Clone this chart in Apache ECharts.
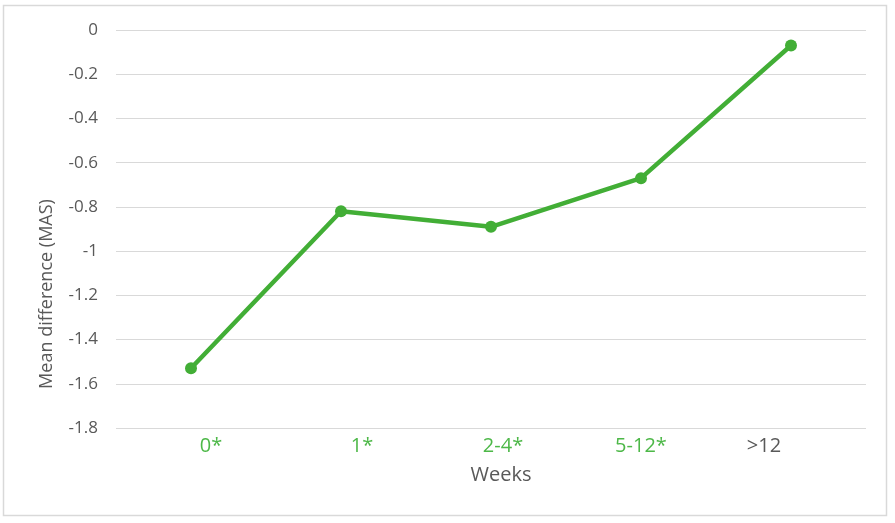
<!DOCTYPE html>
<html><head><meta charset="utf-8">
<script src="https://cdn.jsdelivr.net/npm/echarts@6/dist/echarts.min.js"></script>
<style>html,body{margin:0;padding:0;background:#fff}#c{width:895px;height:523px}</style>
</head><body><div id="c"></div>
<script>
const categories = ['0*', '1*', '2-4*', '5-12*', '>12'];
const meanDiff = [-1.53, -0.82, -0.89, -0.67, -0.07];
const labelColors = ['#4DB848', '#4DB848', '#4DB848', '#4DB848', '#595959'];
const labelShift = [20, 21, 12, 0, -27];
const yTicks = { min: -1.8, max: 0, interval: 0.2 };
const yTitle = 'Mean difference (MAS)';
const xTitle = 'Weeks';

const rich = {};
categories.forEach((c, i) => {
  const s = labelShift[i];
  rich['l' + i] = {
    color: labelColors[i],
    fontSize: 20,
    fontFamily: '"Open Sans", sans-serif',
    padding: s >= 0 ? [0, 0, 0, 2 * s] : [0, -2 * s, 0, 0]
  };
});

const chart = echarts.init(document.getElementById('c'));
chart.setOption({
  animation: false,
  backgroundColor: '#fff',
  graphic: [
    { type: 'rect', shape: { x: 3.5, y: 5.5, width: 883, height: 510 }, style: { fill: 'none', stroke: '#D9D9D9', lineWidth: 1.5 }, silent: true },
    { type: 'text', x: 501, y: 475, style: { text: xTitle, font: '20px "Open Sans", sans-serif', fill: '#595959', align: 'center', verticalAlign: 'middle' } },
    { type: 'text', x: 47, y: 294, rotation: Math.PI / 2, style: { text: yTitle, font: '18px "Open Sans", sans-serif', fill: '#595959', align: 'center', verticalAlign: 'middle' } }
  ],
  grid: { left: 116, right: 29, top: 30, bottom: 95 },
  xAxis: {
    type: 'category',
    data: categories,
    boundaryGap: true,
    axisLine: { show: false },
    axisTick: { show: false },
    axisLabel: {
      margin: 8,
      fontSize: 20,
      fontFamily: '"Open Sans", sans-serif',
      formatter: (v, i) => '{l' + i + '|' + v + '}',
      rich: rich
    }
  },
  yAxis: {
    type: 'value',
    min: yTicks.min, max: yTicks.max, interval: yTicks.interval,
    axisLine: { show: false },
    axisTick: { show: false },
    splitLine: { lineStyle: { color: '#D9D9D9', width: 1.2 } },
    axisLabel: {
      margin: 18,
      fontSize: 17,
      color: '#595959',
      fontFamily: '"Open Sans", sans-serif',
      formatter: v => String(Math.round(v * 10) / 10)
    }
  },
  series: [{
    type: 'line',
    data: meanDiff,
    symbol: 'circle',
    symbolSize: 12,
    lineStyle: { color: '#42AE36', width: 4.5 },
    itemStyle: { color: '#42AE36' }
  }]
});
</script></body></html>
